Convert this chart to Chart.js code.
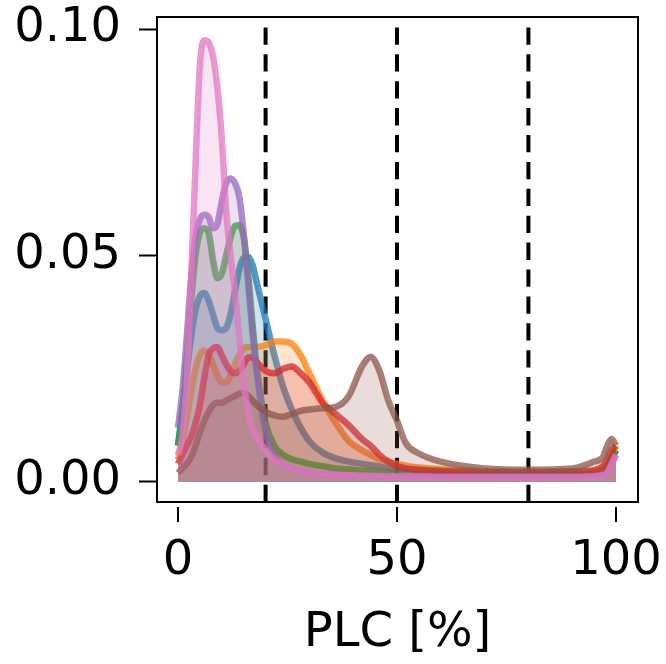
<!DOCTYPE html>
<html>
<head>
<meta charset="utf-8">
<script src="https://cdn.jsdelivr.net/npm/chart.js@4/dist/chart.umd.min.js"></script>
<style>
	body { margin: 0; background: #fff; }
	canvas { display: block; }
</style>
</head>
<body>
<canvas id="plcChart" width="666" height="664"></canvas>
<script>
// PLC grid (%) shared by all density curves
const plc = [0, 1, 2, 3, 4, 5, 6, 7, 8, 9, 10, 11, 12, 13, 14, 15, 16, 17, 18, 20, 22, 24, 26, 28, 30, 33, 36, 39, 42, 44, 46, 48, 50, 52, 55, 60, 70, 80, 90, 95, 97, 98, 99, 100];

// density values, one array per curve
const blue = [0.008, 0.016, 0.024, 0.032, 0.038, 0.041, 0.0417, 0.040, 0.037, 0.034, 0.0335, 0.034, 0.037, 0.042, 0.047, 0.0495, 0.0497, 0.048, 0.044, 0.036, 0.028, 0.021, 0.016, 0.012, 0.009, 0.0065, 0.0052, 0.0045, 0.004, 0.0037, 0.0034, 0.0031, 0.003, 0.0028, 0.0026, 0.0022, 0.002, 0.0018, 0.0018, 0.002, 0.0025, 0.0035, 0.005, 0.007];
const orange = [0.005, 0.009, 0.014, 0.02, 0.025, 0.028, 0.029, 0.028, 0.026, 0.0235, 0.022, 0.022, 0.0235, 0.026, 0.028, 0.0295, 0.0298, 0.0298, 0.0298, 0.0302, 0.031, 0.031, 0.0305, 0.028, 0.024, 0.018, 0.013, 0.009, 0.007, 0.006, 0.005, 0.0045, 0.004, 0.0036, 0.0032, 0.0028, 0.0024, 0.0022, 0.0022, 0.0024, 0.003, 0.004, 0.006, 0.008];
const green = [0.008, 0.015, 0.027, 0.04, 0.05, 0.055, 0.056, 0.055, 0.049, 0.045, 0.046, 0.05, 0.054, 0.0565, 0.0567, 0.054, 0.046, 0.035, 0.025, 0.013, 0.008, 0.006, 0.005, 0.0045, 0.004, 0.0035, 0.003, 0.0028, 0.0025, 0.0024, 0.0022, 0.0021, 0.002, 0.0019, 0.0018, 0.0018, 0.0016, 0.0016, 0.0016, 0.0017, 0.002, 0.003, 0.005, 0.007];
const red = [0.004, 0.006, 0.008, 0.01, 0.013, 0.017, 0.023, 0.028, 0.0295, 0.0298, 0.028, 0.026, 0.0245, 0.024, 0.0245, 0.026, 0.0275, 0.0275, 0.0265, 0.0245, 0.024, 0.025, 0.0255, 0.024, 0.022, 0.0175, 0.015, 0.0125, 0.0095, 0.008, 0.006, 0.0045, 0.0035, 0.003, 0.0027, 0.0024, 0.0022, 0.0022, 0.0023, 0.0026, 0.0035, 0.005, 0.007, 0.008];
const purple = [0.012, 0.02, 0.032, 0.045, 0.054, 0.058, 0.059, 0.0585, 0.056, 0.057, 0.062, 0.066, 0.067, 0.066, 0.063, 0.055, 0.044, 0.033, 0.024, 0.011, 0.006, 0.004, 0.003, 0.0025, 0.002, 0.0017, 0.0016, 0.0015, 0.0014, 0.0014, 0.0013, 0.0013, 0.0013, 0.0013, 0.0012, 0.0012, 0.0012, 0.0012, 0.0012, 0.0013, 0.0016, 0.002, 0.004, 0.006];
const brown = [0.002, 0.003, 0.004, 0.0055, 0.008, 0.011, 0.0135, 0.0155, 0.017, 0.0175, 0.0175, 0.018, 0.0185, 0.019, 0.0195, 0.0196, 0.019, 0.018, 0.017, 0.0155, 0.0147, 0.0144, 0.015, 0.0157, 0.016, 0.0163, 0.0166, 0.019, 0.0255, 0.0276, 0.0245, 0.018, 0.0135, 0.0086, 0.0063, 0.0045, 0.003, 0.0027, 0.003, 0.0045, 0.0055, 0.008, 0.0095, 0.008];
const pink = [0.006, 0.01, 0.022, 0.045, 0.07, 0.092, 0.0975, 0.097, 0.094, 0.087, 0.076, 0.06, 0.05, 0.042, 0.032, 0.022, 0.016, 0.012, 0.01, 0.007, 0.005, 0.004, 0.003, 0.0025, 0.002, 0.0018, 0.0016, 0.0015, 0.0014, 0.0013, 0.0013, 0.0012, 0.0012, 0.0012, 0.0012, 0.0011, 0.0011, 0.0011, 0.0011, 0.0012, 0.0015, 0.002, 0.004, 0.006];

const seriesList = [blue, orange, green, red, purple, brown, pink];
const lineColors = ['31, 119, 180', '255, 127, 14', '44, 160, 44', '214, 39, 40', '148, 103, 189', '140, 86, 75', '227, 119, 194'];

// vertical dashed thresholds and tick labels
const thresholds = [20, 50, 80];
const xTicks = [0, 50, 100];
const yTicks = [0, 0.05, 0.10];

const fontFamily = "'DejaVu Sans', sans-serif";

// no extra label padding, so the plot area stays where it is set
function noPadding(scale) {
	scale.paddingTop = 0;
	scale.paddingBottom = 0;
	scale.paddingLeft = 0;
	scale.paddingRight = 0;
}

// dashed lines, frame and offset x ticks
const framePlugin = {
	id: 'framePlugin',
	beforeDatasetsDraw(chart) {
		const { ctx, chartArea, scales } = chart;
		ctx.save();
		ctx.strokeStyle = '#000';
		ctx.lineWidth = 4;
		ctx.setLineDash([17.3, 9.6]);
		thresholds.forEach(v => {
			const px = scales.x.getPixelForValue(v);
			ctx.beginPath();
			ctx.moveTo(px, chartArea.bottom);
			ctx.lineTo(px, chartArea.top);
			ctx.stroke();
		});
		ctx.restore();
	},
	afterDraw(chart) {
		const { ctx, chartArea, scales } = chart;
		ctx.save();
		ctx.strokeStyle = '#000';
		ctx.lineWidth = 2;
		ctx.strokeRect(chartArea.left, chartArea.top, chartArea.right - chartArea.left, chartArea.bottom - chartArea.top);
		xTicks.forEach(v => {
			const px = scales.x.getPixelForValue(v);
			ctx.beginPath();
			ctx.moveTo(px, chartArea.bottom + 5);
			ctx.lineTo(px, chartArea.bottom + 20);
			ctx.stroke();
		});
		ctx.restore();
	}
};

const datasets = seriesList.map((values, i) => ({
	data: values.map((v, j) => ({ x: plc[j], y: v })),
	borderColor: `rgba(${lineColors[i]}, 0.75)`,
	backgroundColor: `rgba(${lineColors[i]}, 0.2)`,
	borderWidth: 6.5,
	fill: 'origin',
	pointRadius: 0,
	cubicInterpolationMode: 'monotone',
	order: seriesList.length - i
}));

new Chart(document.getElementById('plcChart'), {
	type: 'line',
	data: { datasets: datasets },
	options: {
		responsive: false,
		animation: false,
		devicePixelRatio: 1,
		layout: { autoPadding: false, padding: { top: 17, right: 28, left: 0, bottom: 0 } },
		plugins: {
			legend: { display: false },
			tooltip: { enabled: false }
		},
		scales: {
			x: {
				type: 'linear',
				min: -4.79,
				max: 105.02,
				afterBuildTicks: scale => { scale.ticks = xTicks.map(v => ({ value: v })); },
				afterFit: scale => { scale.height = 162; noPadding(scale); },
				border: { display: false },
				grid: {
					drawOnChartArea: false,
					drawTicks: true,
					tickLength: 20,
					tickColor: 'rgba(0,0,0,0)'
				},
				ticks: {
					color: '#000',
					padding: 11,
					maxRotation: 0,
					font: { family: fontFamily, size: 48 },
					callback: v => String(v)
				},
				title: {
					display: true,
					text: 'PLC [%]',
					color: '#000',
					padding: { top: 0, bottom: 2 },
					font: { family: fontFamily, size: 48 }
				}
			},
			y: {
				min: -0.00442,
				max: 0.10265,
				afterBuildTicks: scale => { scale.ticks = yTicks.map(v => ({ value: v })); },
				afterFit: scale => { scale.width = 157; noPadding(scale); },
				border: { display: false },
				grid: {
					drawOnChartArea: false,
					drawTicks: true,
					tickLength: 18,
					tickWidth: 2,
					tickColor: '#000'
				},
				ticks: {
					color: '#000',
					padding: 18,
					font: { family: fontFamily, size: 48 },
					callback: v => v.toFixed(2)
				}
			}
		}
	},
	plugins: [framePlugin]
});
</script>
</body>
</html>
